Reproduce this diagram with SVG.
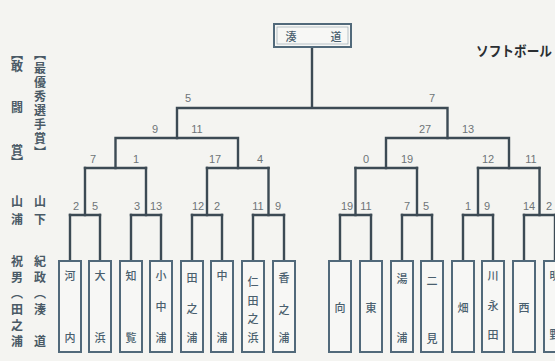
<svg xmlns="http://www.w3.org/2000/svg" width="555" height="361" viewBox="0 0 555 361">
<style>
.bg{fill:#f4f4f1}
.ln{fill:none;stroke:#3c4a54;stroke-width:2.4;stroke-linecap:square}
.bx{fill:#f7f7f5;stroke:#51697a;stroke-width:2}
.bxi{fill:none;stroke:#9aaab4;stroke-width:0.7}
.nm{font-family:"Noto Sans CJK JP","Noto Sans",sans-serif;font-size:11px;font-weight:500;fill:#4a5f6e;text-anchor:middle;dominant-baseline:central}
.sc{font-family:"Liberation Sans","DejaVu Sans",sans-serif;font-size:11px;fill:#6e7478;text-anchor:middle;dominant-baseline:central}
.lt{font-family:"Noto Sans CJK JP",sans-serif;font-size:12px;font-weight:bold;fill:#4a5a66;writing-mode:vertical-rl;text-anchor:start}
.tt{font-family:"Noto Sans CJK JP",sans-serif;font-size:14px;font-weight:bold;fill:#2a2e32;dominant-baseline:central}
</style>
<rect class="bg" x="0" y="0" width="555" height="361"/>

<g id="connectors">
<path class="ln" d="M312 48V108M177 108H447.5M177 108V138M447.5 108V138"/>
<path class="ln" d="M115.5 138H238M386 138H509M115.5 138V168M238 138V168M386 138V168M509 138V168"/>
<path class="ln" d="M85 168H146M207 168H268.5M355.5 168H417M478 168H539.5"/>
<path class="ln" d="M85 168V215M146 168V215M207 168V215M268.5 168V215M355.5 168V215M417 168V215M478 168V215M539.5 168V215"/>
<path class="ln" d="M70 215H100M131 215H161M192 215H222M253 215H284M340 215H371M402 215H432M463 215H493M524 215H555"/>
<path class="ln" d="M70 215V261M100 215V261M131 215V261M161 215V261M192 215V261M222 215V261M253 215V261M284 215V261M340 215V261M371 215V261M402 215V261M432 215V261M463 215V261M493 215V261M524 215V261M555 215V261"/>
</g>

<g id="scores">
<text class="sc" x="188" y="98">5</text>
<text class="sc" x="432" y="98">7</text>
<text class="sc" x="155" y="129">9</text>
<text class="sc" x="197" y="129">11</text>
<text class="sc" x="425" y="129">27</text>
<text class="sc" x="468" y="129">13</text>
<text class="sc" x="93" y="159">7</text>
<text class="sc" x="136" y="159">1</text>
<text class="sc" x="215" y="159">17</text>
<text class="sc" x="260" y="159">4</text>
<text class="sc" x="366" y="159">0</text>
<text class="sc" x="407" y="159">19</text>
<text class="sc" x="488" y="159">12</text>
<text class="sc" x="531" y="159">11</text>
<text class="sc" x="76" y="206">2</text>
<text class="sc" x="95" y="206">5</text>
<text class="sc" x="137" y="206">3</text>
<text class="sc" x="156" y="206">13</text>
<text class="sc" x="198" y="206">12</text>
<text class="sc" x="217" y="206">2</text>
<text class="sc" x="258" y="206">11</text>
<text class="sc" x="278" y="206">9</text>
<text class="sc" x="347" y="206">19</text>
<text class="sc" x="366" y="206">11</text>
<text class="sc" x="407" y="206">7</text>
<text class="sc" x="426" y="206">5</text>
<text class="sc" x="468" y="206">1</text>
<text class="sc" x="487" y="206">9</text>
<text class="sc" x="529" y="206">14</text>
<text class="sc" x="549" y="206">2</text>
</g>

<g id="winner">
<rect class="bx" x="274" y="24" width="77" height="23"/>
<rect class="bxi" x="277" y="27" width="71" height="17"/>
<text class="nm" x="291" y="36">湊</text>
<text class="nm" x="336" y="36">道</text>
</g>

<g id="title">
<text class="tt" x="476" y="50" textLength="76" lengthAdjust="spacingAndGlyphs">ソフトボール</text>
</g>

<g id="awards">
<text class="lt" x="17" y="48">【敢</text>
<text class="lt" x="17" y="101">闘</text>
<text class="lt" x="17" y="144">賞】</text>
<text class="lt" x="40" y="48" letter-spacing="2">【最優秀選手賞】</text>
<text class="lt" x="17" y="195" letter-spacing="6">山浦</text>
<text class="lt" x="40" y="195" letter-spacing="6">山下</text>
<text class="lt" x="17" y="255" letter-spacing="4">祝男（田之浦</text>
<text class="lt" x="40" y="255" letter-spacing="4">紀政（湊　道</text>
</g>

<g id="t1"><rect class="bx" x="59" y="261" width="22" height="91"/><text class="nm" x="70" y="275">河</text><text class="nm" x="70" y="337">内</text></g>
<g id="t2"><rect class="bx" x="89" y="261" width="22" height="91"/><text class="nm" x="100" y="275">大</text><text class="nm" x="100" y="337">浜</text></g>
<g id="t3"><rect class="bx" x="120" y="261" width="22" height="91"/><text class="nm" x="131" y="275">知</text><text class="nm" x="131" y="337">覧</text></g>
<g id="t4"><rect class="bx" x="150" y="261" width="22" height="91"/><text class="nm" x="161" y="275">小</text><text class="nm" x="161" y="306">中</text><text class="nm" x="161" y="337">浦</text></g>
<g id="t5"><rect class="bx" x="181" y="261" width="22" height="91"/><text class="nm" x="192" y="277">田</text><text class="nm" x="192" y="308">之</text><text class="nm" x="192" y="337">浦</text></g>
<g id="t6"><rect class="bx" x="211" y="261" width="22" height="91"/><text class="nm" x="222" y="275">中</text><text class="nm" x="222" y="337">浦</text></g>
<g id="t7"><rect class="bx" x="242" y="261" width="22" height="91"/><text class="nm" x="253" y="281">仁</text><text class="nm" x="253" y="300">田</text><text class="nm" x="253" y="318">之</text><text class="nm" x="253" y="337">浜</text></g>
<g id="t8"><rect class="bx" x="273" y="261" width="22" height="91"/><text class="nm" x="284" y="277">香</text><text class="nm" x="284" y="309">之</text><text class="nm" x="284" y="337">浦</text></g>
<g id="t9"><rect class="bx" x="329" y="261" width="22" height="91"/><text class="nm" x="340" y="307">向</text></g>
<g id="t10"><rect class="bx" x="360" y="261" width="22" height="91"/><text class="nm" x="371" y="307">東</text></g>
<g id="t11"><rect class="bx" x="391" y="261" width="22" height="91"/><text class="nm" x="402" y="278">湯</text><text class="nm" x="402" y="337">浦</text></g>
<g id="t12"><rect class="bx" x="421" y="261" width="22" height="91"/><text class="nm" x="432" y="280">二</text><text class="nm" x="432" y="338">見</text></g>
<g id="t13"><rect class="bx" x="452" y="261" width="22" height="91"/><text class="nm" x="463" y="307">畑</text></g>
<g id="t14"><rect class="bx" x="482" y="261" width="22" height="91"/><text class="nm" x="493" y="275">川</text><text class="nm" x="493" y="305">永</text><text class="nm" x="493" y="334">田</text></g>
<g id="t15"><rect class="bx" x="513" y="261" width="22" height="91"/><text class="nm" x="524" y="307">西</text></g>
<g id="t16"><rect class="bx" x="544" y="261" width="22" height="91"/><text class="nm" x="555" y="275">明</text><text class="nm" x="555" y="334">野</text></g>
</svg>
